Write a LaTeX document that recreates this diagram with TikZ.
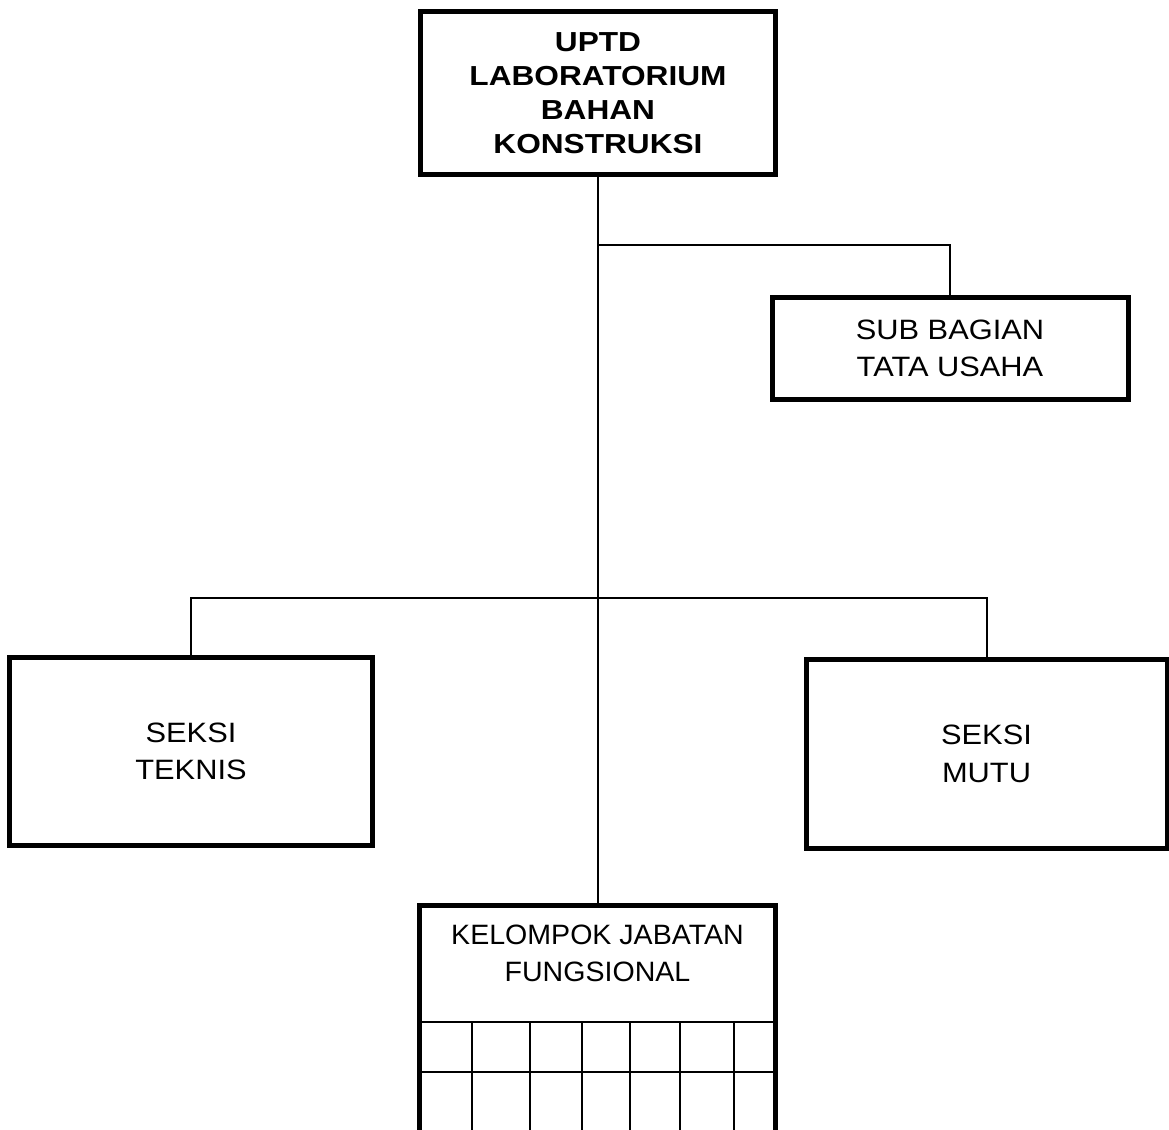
\documentclass[tikz,border=0pt]{standalone}
\usepackage{fontspec}
\setmainfont{Liberation Sans}
\newfontfamily\widebold[FakeStretch=1.15]{Liberation Sans}
\newfontfamily\wideplain[FakeStretch=1.1]{Liberation Sans}
\newfontfamily\lightwide[FakeStretch=1.02]{Liberation Sans}
\begin{document}
\begin{tikzpicture}[x=1pt,y=-1pt,
  unitbox/.style={draw, line width=5pt, rectangle, inner sep=0pt, align=center,
    font=\wideplain\fontsize{28}{37.5}\selectfont},
  conn/.style={line width=2pt},
  gridline/.style={line width=1.8pt}]
\useasboundingbox (0,0) rectangle (1169,1129);
\clip (0,0) rectangle (1169,1129);
% head
\node[unitbox, minimum width=355pt, minimum height=162.5pt,
  font=\widebold\bfseries\fontsize{27.5}{34}\selectfont] (head) at (598,93.25)
  {UPTD\\LABORATORIUM\\BAHAN\\KONSTRUKSI};
% sub bagian
\node[unitbox, minimum width=356pt, minimum height=102.5pt] (sub) at (950,348.5)
  {SUB BAGIAN\\TATA USAHA};
% seksi
\node[unitbox, minimum width=363pt, minimum height=188pt] (teknis) at (191,751.5)
  {\rule{0pt}{0pt}\raisebox{0pt}{}SEKSI\\TEKNIS};
\node[unitbox, minimum width=361pt, minimum height=188.5pt] (mutu) at (986.5,753.75)
  {SEKSI\\MUTU};
% kelompok jabatan fungsional frame
\coordinate (kjftop) at (598,905.5);
\draw[line width=5pt] (419.5,1140) -- (419.5,905.5) -- (775.5,905.5) -- (775.5,1140);
\node[align=center, font=\lightwide\fontsize{28}{37}\selectfont, inner sep=0pt] (kjf) at (597.5,953)
  {KELOMPOK JABATAN\\FUNGSIONAL};
\draw[gridline] (419.5,1022) -- (778,1022);
\draw[gridline] (419.5,1072) -- (775.5,1072);
\foreach \gx in {472,530,582,630,680,734}
  \draw[gridline] (\gx,1022) -- (\gx,1140);
% connectors
\coordinate (j1) at (598,245);
\coordinate (j2) at (598,597.5);
\draw[conn] (head.south) -- (kjftop);
\draw[conn] (j1) -| (sub.north);
\draw[conn] (j2) -| (teknis.north);
\draw[conn] (j2) -| (mutu.north);
\end{tikzpicture}
\end{document}
